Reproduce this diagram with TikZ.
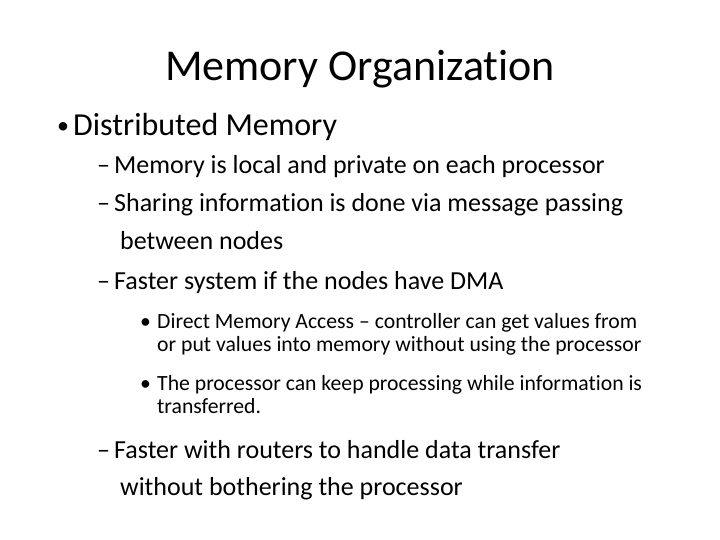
\documentclass[tikz,border=0pt]{standalone}
\usepackage{fontspec}
\setmainfont{Carlito}[RawFeature=-liga]
\begin{document}
\begin{tikzpicture}[x=1pt,y=1pt,
  t/.style={anchor=base west,inner sep=0pt},
  ti/.style={font=\fontsize{44}{52}\selectfont},
  la/.style={t,font=\fontsize{32}{38}\selectfont},
  lb/.style={t,font=\fontsize{26}{31}\selectfont},
  lc/.style={t,font=\fontsize{21.7}{26}\selectfont}]
\useasboundingbox (0,0) rectangle (720,540);
\node[anchor=base,inner sep=0pt,ti] (title) at (360,540-81) {Memory Organization};
\node[t,font=\fontsize{24}{28}\selectfont] (b1) at (57,540-134) {•};
\node[la] (l1) at (73,540-136) {Distributed Memory};
\node[lb] (d1) at (97,540-174) {–};
\node[lb] (a1) at (114,540-174) {Memory is local and private on each processor};
\node[lb] (d2) at (97,540-212) {–};
\node[lb] (a2) at (114,540-212) {Sharing information is done via message passing};
\node[lb] (a2b) at (120,540-250) {between nodes};
\node[lb] (d3) at (97,540-290) {–};
\node[lb] (a3) at (114,540-290) {Faster system if the nodes have DMA};
\node[lc] (b2) at (140,540-329) {•};
\node[lc] (c1) at (157,540-329) {Direct Memory Access – controller can get values from};
\node[lc] (c1b) at (157,540-352) {or put values into memory without using the processor};
\node[lc] (b3) at (140,540-391) {•};
\node[lc] (c2) at (157,540-391) {The processor can keep processing while information is};
\node[lc] (c2b) at (157,540-414) {transferred.};
\node[lb] (d4) at (97,540-459) {–};
\node[lb] (a4) at (114,540-459) {Faster with routers to handle data transfer};
\node[lb] (a4b) at (120,540-496) {without bothering the processor};
\end{tikzpicture}
\end{document}
